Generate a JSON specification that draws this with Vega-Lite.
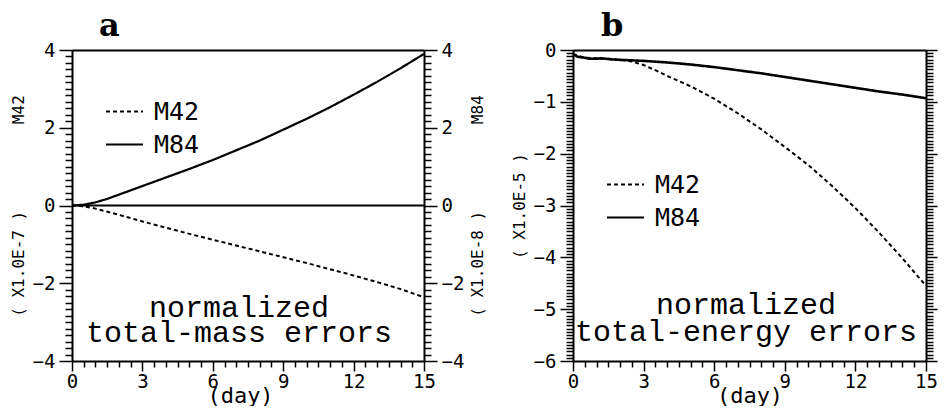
{
  "$schema": "https://vega.github.io/schema/vega-lite/v6.json",
  "background": "white",
  "padding": {"left": 10, "top": 10, "right": 5, "bottom": 0},
  "bounds": "flush",
  "spacing": 149,
  "config": {
    "view": {"stroke": null},
    "font": "DejaVu Sans Mono",
    "axis": {
      "grid": false,
      "domainColor": "black",
      "domainWidth": 2,
      "tickColor": "black",
      "tickWidth": 1.5,
      "tickCount": 500,
      "labelColor": "black",
      "titleColor": "black",
      "labelFont": "DejaVu Sans Mono",
      "labelFontSize": 19,
      "titleFont": "DejaVu Sans Mono",
      "titleFontWeight": "normal",
      "labelFlush": false,
      "labelOverlap": false
    },
    "legend": {
      "labelFont": "DejaVu Sans Mono",
      "labelFontSize": 25,
      "labelColor": "black",
      "symbolType": "stroke",
      "symbolSize": 1369,
      "symbolStrokeWidth": 2,
      "symbolStrokeColor": "black",
      "labelOffset": 10,
      "rowPadding": -20,
      "padding": 0
    }
  },
  "datasets": {
    "mass": [
      {"day": 0, "model": "M42", "value": 0},
      {"day": 0.5, "model": "M42", "value": -0.02},
      {"day": 1, "model": "M42", "value": -0.08},
      {"day": 2, "model": "M42", "value": -0.24},
      {"day": 3, "model": "M42", "value": -0.41},
      {"day": 4, "model": "M42", "value": -0.57},
      {"day": 5, "model": "M42", "value": -0.73},
      {"day": 6, "model": "M42", "value": -0.88},
      {"day": 7, "model": "M42", "value": -1.03},
      {"day": 8, "model": "M42", "value": -1.18},
      {"day": 9, "model": "M42", "value": -1.33},
      {"day": 10, "model": "M42", "value": -1.48},
      {"day": 11, "model": "M42", "value": -1.64},
      {"day": 12, "model": "M42", "value": -1.8},
      {"day": 13, "model": "M42", "value": -1.97},
      {"day": 14, "model": "M42", "value": -2.15},
      {"day": 15, "model": "M42", "value": -2.36},
      {"day": 0, "model": "M84", "value": 0},
      {"day": 0.5, "model": "M84", "value": 0.02},
      {"day": 1, "model": "M84", "value": 0.08},
      {"day": 1.5, "model": "M84", "value": 0.17},
      {"day": 2, "model": "M84", "value": 0.28},
      {"day": 3, "model": "M84", "value": 0.5},
      {"day": 4, "model": "M84", "value": 0.72},
      {"day": 5, "model": "M84", "value": 0.94},
      {"day": 6, "model": "M84", "value": 1.17},
      {"day": 7, "model": "M84", "value": 1.42},
      {"day": 8, "model": "M84", "value": 1.67},
      {"day": 9, "model": "M84", "value": 1.95},
      {"day": 10, "model": "M84", "value": 2.23},
      {"day": 11, "model": "M84", "value": 2.53},
      {"day": 12, "model": "M84", "value": 2.85},
      {"day": 13, "model": "M84", "value": 3.18},
      {"day": 14, "model": "M84", "value": 3.53},
      {"day": 15, "model": "M84", "value": 3.9}
    ],
    "energy": [
      {"day": 0, "model": "M42", "value": -0.08},
      {"day": 0.5, "model": "M42", "value": -0.15},
      {"day": 1, "model": "M42", "value": -0.16},
      {"day": 1.5, "model": "M42", "value": -0.17},
      {"day": 2, "model": "M42", "value": -0.19},
      {"day": 2.5, "model": "M42", "value": -0.22},
      {"day": 3, "model": "M42", "value": -0.29},
      {"day": 3.5, "model": "M42", "value": -0.39},
      {"day": 4, "model": "M42", "value": -0.5},
      {"day": 5, "model": "M42", "value": -0.7},
      {"day": 6, "model": "M42", "value": -0.94},
      {"day": 7, "model": "M42", "value": -1.22},
      {"day": 8, "model": "M42", "value": -1.53},
      {"day": 9, "model": "M42", "value": -1.87},
      {"day": 10, "model": "M42", "value": -2.22},
      {"day": 11, "model": "M42", "value": -2.62},
      {"day": 12, "model": "M42", "value": -3.05},
      {"day": 13, "model": "M42", "value": -3.52},
      {"day": 14, "model": "M42", "value": -4.02},
      {"day": 15, "model": "M42", "value": -4.55},
      {"day": 0, "model": "M84", "value": -0.08},
      {"day": 0.2, "model": "M84", "value": -0.13},
      {"day": 0.5, "model": "M84", "value": -0.15},
      {"day": 0.7, "model": "M84", "value": -0.17},
      {"day": 1, "model": "M84", "value": -0.17},
      {"day": 1.2, "model": "M84", "value": -0.16},
      {"day": 1.6, "model": "M84", "value": -0.18},
      {"day": 2, "model": "M84", "value": -0.19},
      {"day": 3, "model": "M84", "value": -0.21},
      {"day": 4, "model": "M84", "value": -0.24},
      {"day": 5, "model": "M84", "value": -0.28},
      {"day": 6, "model": "M84", "value": -0.33},
      {"day": 7, "model": "M84", "value": -0.39},
      {"day": 8, "model": "M84", "value": -0.45},
      {"day": 9, "model": "M84", "value": -0.52},
      {"day": 10, "model": "M84", "value": -0.59},
      {"day": 11, "model": "M84", "value": -0.66},
      {"day": 12, "model": "M84", "value": -0.73},
      {"day": 13, "model": "M84", "value": -0.8},
      {"day": 14, "model": "M84", "value": -0.86},
      {"day": 15, "model": "M84", "value": -0.93}
    ]
  },
  "resolve": {
    "scale": {"x": "independent", "y": "independent", "strokeDash": "independent"},
    "axis": {"x": "independent", "y": "independent"},
    "legend": {"strokeDash": "independent"}
  },
  "hconcat": [
    {
      "width": 352,
      "height": 311,
      "title": {"text": "a", "anchor": "start", "frame": "group", "dx": 27, "offset": -2, "font": "DejaVu Serif", "fontSize": 32, "fontWeight": "bold", "color": "black"},
      "resolve": {"axis": {"x": "independent", "y": "independent"}},
      "layer": [
        {
          "data": {"name": "mass"},
          "transform": [{"filter": "datum.model === 'M42'"}],
          "mark": {"type": "line", "color": "black", "strokeWidth": 2},
          "encoding": {
            "x": {"field": "day", "type": "quantitative", "scale": {"domain": [0, 15], "nice": false},
                  "axis": {"orient": "bottom", "values": [0, 0.5, 1, 1.5, 2, 2.5, 3, 3.5, 4, 4.5, 5, 5.5, 6, 6.5, 7, 7.5, 8, 8.5, 9, 9.5, 10, 10.5, 11, 11.5, 12, 12.5, 13, 13.5, 14, 14.5, 15],
                           "tickSize": {"condition": {"test": "datum.value % 3 === 0", "value": 10}, "value": 6},
                           "labelExpr": "datum.value % 3 === 0 ? format(datum.value, 'd') : ''",
                           "labelPadding": 1, "title": "(day)", "titleFontSize": 22, "titlePadding": -6, "titleX": 168}},
            "y": {"field": "value", "type": "quantitative", "scale": {"domain": [-4, 4], "nice": false},
                  "axis": {"orient": "left", "values": [-4, -3.8333, -3.6667, -3.5, -3.3333, -3.1667, -3, -2.8333, -2.6667, -2.5, -2.3333, -2.1667, -2, -1.8333, -1.6667, -1.5, -1.3333, -1.1667, -1, -0.8333, -0.6667, -0.5, -0.3333, -0.1667, 0, 0.1667, 0.3333, 0.5, 0.6667, 0.8333, 1, 1.1667, 1.3333, 1.5, 1.6667, 1.8333, 2, 2.1667, 2.3333, 2.5, 2.6667, 2.8333, 3, 3.1667, 3.3333, 3.5, 3.6667, 3.8333, 4],
                           "tickSize": {"condition": {"test": "abs(datum.value % 2) < 0.01", "value": 13}, "value": 7},
                           "labelExpr": "abs(datum.value % 2) < 0.01 ? format(datum.value, 'd') : ''",
                           "labelPadding": 4,
                           "title": "(\u00a0X1.0E-7\u00a0)\u00a0\u00a0\u00a0\u00a0\u00a0\u00a0\u00a0\u00a0\u00a0M42", "titleFontSize": 16, "titlePadding": 6}},
            "strokeDash": {"field": "model", "type": "nominal", "scale": {"domain": ["M42", "M84"], "range": [[4, 3], [1, 0]]},
                           "legend": {"orient": "none", "legendX": 33, "legendY": 42, "title": null}}
          }
        },
        {
          "data": {"name": "mass"},
          "transform": [{"filter": "datum.model === 'M84'"}],
          "mark": {"type": "line", "color": "black", "strokeWidth": 2.2},
          "encoding": {
            "x": {"field": "day", "type": "quantitative", "axis": {"orient": "top", "ticks": false, "labels": false, "title": null}},
            "y": {"field": "value", "type": "quantitative",
                  "axis": {"orient": "right", "values": [-4, -3.8333, -3.6667, -3.5, -3.3333, -3.1667, -3, -2.8333, -2.6667, -2.5, -2.3333, -2.1667, -2, -1.8333, -1.6667, -1.5, -1.3333, -1.1667, -1, -0.8333, -0.6667, -0.5, -0.3333, -0.1667, 0, 0.1667, 0.3333, 0.5, 0.6667, 0.8333, 1, 1.1667, 1.3333, 1.5, 1.6667, 1.8333, 2, 2.1667, 2.3333, 2.5, 2.6667, 2.8333, 3, 3.1667, 3.3333, 3.5, 3.6667, 3.8333, 4],
                           "tickSize": {"condition": {"test": "abs(datum.value % 2) < 0.01", "value": 13}, "value": 7},
                           "labelExpr": "abs(datum.value % 2) < 0.01 ? format(datum.value, 'd') : ''",
                           "labelPadding": 4,
                           "title": "(\u00a0X1.0E-8\u00a0)\u00a0\u00a0\u00a0\u00a0\u00a0\u00a0\u00a0\u00a0\u00a0M84", "titleFontSize": 16, "titleAngle": 270, "titleBaseline": "top", "titlePadding": 6}},
            "strokeDash": {"field": "model", "type": "nominal", "legend": {"orient": "none", "legendX": 33, "legendY": 42, "title": null}}
          }
        },
        {
          "data": {"values": [{"level": 0}]},
          "mark": {"type": "rule", "color": "black", "strokeWidth": 2},
          "encoding": {
            "x": {"datum": 0, "type": "quantitative", "axis": null},
            "x2": {"datum": 15},
            "y": {"field": "level", "type": "quantitative", "axis": null}
          }
        },
        {
          "data": {"values": [{"label": ["normalized", "total-mass errors"]}]},
          "mark": {"type": "text", "font": "Liberation Mono", "fontSize": 30, "lineHeight": 25, "align": "center", "baseline": "alphabetic", "color": "black"},
          "encoding": {
            "x": {"datum": 7.12, "type": "quantitative", "axis": null},
            "y": {"datum": -2.87, "type": "quantitative", "axis": null},
            "text": {"field": "label"}
          }
        }
      ]
    },
    {
      "width": 353,
      "height": 311,
      "title": {"text": "b", "anchor": "start", "frame": "group", "dx": 28, "offset": -2, "font": "DejaVu Serif", "fontSize": 32, "fontWeight": "bold", "color": "black"},
      "resolve": {"axis": {"x": "independent", "y": "independent"}},
      "layer": [
        {
          "data": {"name": "energy"},
          "transform": [{"filter": "datum.model === 'M42'"}],
          "mark": {"type": "line", "color": "black", "strokeWidth": 2},
          "encoding": {
            "x": {"field": "day", "type": "quantitative", "scale": {"domain": [0, 15], "nice": false},
                  "axis": {"orient": "bottom", "values": [0, 0.5, 1, 1.5, 2, 2.5, 3, 3.5, 4, 4.5, 5, 5.5, 6, 6.5, 7, 7.5, 8, 8.5, 9, 9.5, 10, 10.5, 11, 11.5, 12, 12.5, 13, 13.5, 14, 14.5, 15],
                           "tickSize": {"condition": {"test": "datum.value % 3 === 0", "value": 10}, "value": 6},
                           "labelExpr": "datum.value % 3 === 0 ? format(datum.value, 'd') : ''",
                           "labelPadding": 1, "title": "(day)", "titleFontSize": 22, "titlePadding": -6}},
            "y": {"field": "value", "type": "quantitative", "scale": {"domain": [-6, 0], "nice": false},
                  "axis": {"orient": "left", "values": [0, -0.0625, -0.125, -0.1875, -0.25, -0.3125, -0.375, -0.4375, -0.5, -0.5625, -0.625, -0.6875, -0.75, -0.8125, -0.875, -0.9375, -1, -1.0625, -1.125, -1.1875, -1.25, -1.3125, -1.375, -1.4375, -1.5, -1.5625, -1.625, -1.6875, -1.75, -1.8125, -1.875, -1.9375, -2, -2.0625, -2.125, -2.1875, -2.25, -2.3125, -2.375, -2.4375, -2.5, -2.5625, -2.625, -2.6875, -2.75, -2.8125, -2.875, -2.9375, -3, -3.0625, -3.125, -3.1875, -3.25, -3.3125, -3.375, -3.4375, -3.5, -3.5625, -3.625, -3.6875, -3.75, -3.8125, -3.875, -3.9375, -4, -4.0625, -4.125, -4.1875, -4.25, -4.3125, -4.375, -4.4375, -4.5, -4.5625, -4.625, -4.6875, -4.75, -4.8125, -4.875, -4.9375, -5, -5.0625, -5.125, -5.1875, -5.25, -5.3125, -5.375, -5.4375, -5.5, -5.5625, -5.625, -5.6875, -5.75, -5.8125, -5.875, -5.9375, -6],
                           "tickSize": {"condition": {"test": "datum.value % 1 === 0", "value": 13}, "value": 7},
                           "labelExpr": "datum.value % 1 === 0 ? format(datum.value, 'd') : ''",
                           "labelPadding": 4,
                           "title": "(\u00a0X1.0E-5\u00a0)", "titleFontSize": 16, "titlePadding": 6}},
            "strokeDash": {"field": "model", "type": "nominal", "scale": {"domain": ["M42", "M84"], "range": [[4, 3], [1, 0]]},
                           "legend": {"orient": "none", "legendX": 33, "legendY": 115, "title": null}}
          }
        },
        {
          "data": {"name": "energy"},
          "transform": [{"filter": "datum.model === 'M84'"}],
          "mark": {"type": "line", "color": "black", "strokeWidth": 2.6},
          "encoding": {
            "x": {"field": "day", "type": "quantitative", "axis": {"orient": "top", "ticks": false, "labels": false, "title": null}},
            "y": {"field": "value", "type": "quantitative",
                  "axis": {"orient": "right", "values": [0, -0.0625, -0.125, -0.1875, -0.25, -0.3125, -0.375, -0.4375, -0.5, -0.5625, -0.625, -0.6875, -0.75, -0.8125, -0.875, -0.9375, -1, -1.0625, -1.125, -1.1875, -1.25, -1.3125, -1.375, -1.4375, -1.5, -1.5625, -1.625, -1.6875, -1.75, -1.8125, -1.875, -1.9375, -2, -2.0625, -2.125, -2.1875, -2.25, -2.3125, -2.375, -2.4375, -2.5, -2.5625, -2.625, -2.6875, -2.75, -2.8125, -2.875, -2.9375, -3, -3.0625, -3.125, -3.1875, -3.25, -3.3125, -3.375, -3.4375, -3.5, -3.5625, -3.625, -3.6875, -3.75, -3.8125, -3.875, -3.9375, -4, -4.0625, -4.125, -4.1875, -4.25, -4.3125, -4.375, -4.4375, -4.5, -4.5625, -4.625, -4.6875, -4.75, -4.8125, -4.875, -4.9375, -5, -5.0625, -5.125, -5.1875, -5.25, -5.3125, -5.375, -5.4375, -5.5, -5.5625, -5.625, -5.6875, -5.75, -5.8125, -5.875, -5.9375, -6],
                           "tickSize": {"condition": {"test": "datum.value % 1 === 0", "value": 11}, "value": 7},
                           "labels": false, "title": null}},
            "strokeDash": {"field": "model", "type": "nominal", "legend": {"orient": "none", "legendX": 33, "legendY": 115, "title": null}}
          }
        },
        {
          "data": {"values": [{"label": ["normalized", "total-energy errors"]}]},
          "mark": {"type": "text", "font": "Liberation Mono", "fontSize": 30, "lineHeight": 27, "align": "center", "baseline": "alphabetic", "color": "black"},
          "encoding": {
            "x": {"datum": 7.35, "type": "quantitative", "axis": null},
            "y": {"datum": -5.09, "type": "quantitative", "axis": null},
            "text": {"field": "label"}
          }
        }
      ]
    }
  ]
}
